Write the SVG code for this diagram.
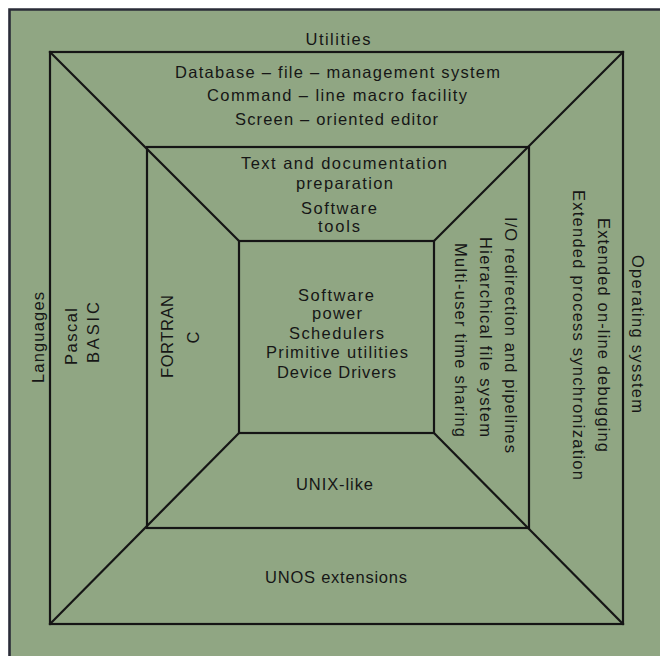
<svg xmlns="http://www.w3.org/2000/svg" width="660" height="656" viewBox="0 0 660 656">
  <style>
    .ln { stroke: #151515; stroke-width: 2.2; fill: none; stroke-linecap: square; }
    .edge { stroke: #2a2c38; stroke-width: 2.6; fill: none; }
    text { font-family: "Liberation Sans", Arial, Helvetica, sans-serif; font-size: 16.5px; fill: #161616; text-anchor: middle; }
  </style>

  <!-- paper and panel -->
  <rect x="0" y="0" width="660" height="656" fill="#ffffff"/>
  <rect x="9" y="9" width="651" height="647" fill="#90a683"/>
  <path class="edge" d="M9.5 656 V9.5 H660"/>

  <!-- nested squares and the corner diagonals -->
  <g id="connectors">
    <rect class="ln" x="50" y="52" width="573" height="572"/>
    <rect class="ln" x="147" y="147" width="382" height="381"/>
    <rect class="ln" x="239" y="241" width="195" height="192"/>
    <line class="ln" x1="50" y1="52" x2="239" y2="241"/>
    <line class="ln" x1="623" y1="52" x2="434" y2="241"/>
    <line class="ln" x1="50" y1="624" x2="239" y2="433"/>
    <line class="ln" x1="623" y1="624" x2="434" y2="433"/>
  </g>

  <!-- outer band labels -->
  <g id="utilities">
    <text x="338" y="45" textLength="65" lengthAdjust="spacing">Utilities</text>
  </g>
  <g id="languages">
    <text x="43.5" y="337.5" transform="rotate(-90 43.5 337.5)" textLength="91" lengthAdjust="spacing">Languages</text>
  </g>
  <g id="operating-system">
    <text x="631.5" y="334" transform="rotate(90 631.5 334)" textLength="158" lengthAdjust="spacing">Operating sysstem</text>
  </g>

  <!-- outer square contents -->
  <g id="unos-top">
    <text x="337.5" y="78" textLength="325" lengthAdjust="spacing">Database – file – management system</text>
    <text x="337" y="101" textLength="260" lengthAdjust="spacing">Command – line macro facility</text>
    <text x="336.5" y="125" textLength="203" lengthAdjust="spacing">Screen – oriented editor</text>
  </g>
  <g id="unos-left">
    <text x="76.7" y="336.5" transform="rotate(-90 76.7 336.5)" textLength="57" lengthAdjust="spacing">Pascal</text>
    <text x="98.5" y="332.5" transform="rotate(-90 98.5 332.5)" textLength="61" lengthAdjust="spacing">BASIC</text>
  </g>
  <g id="unos-right">
    <text x="598" y="335" transform="rotate(90 598 335)" textLength="234" lengthAdjust="spacing">Extended on-line debugging</text>
    <text x="573.3" y="335" transform="rotate(90 573.3 335)" textLength="290" lengthAdjust="spacing">Extended process synchronization</text>
  </g>
  <g id="unos-bottom">
    <text x="336" y="583" textLength="142" lengthAdjust="spacing">UNOS extensions</text>
  </g>

  <!-- middle square contents -->
  <g id="unix-top">
    <text x="344" y="169" textLength="206" lengthAdjust="spacing">Text and documentation</text>
    <text x="344.5" y="189" textLength="97" lengthAdjust="spacing">preparation</text>
    <text x="339" y="214" textLength="76" lengthAdjust="spacing">Software</text>
    <text x="339" y="231.5" textLength="42" lengthAdjust="spacing">tools</text>
  </g>
  <g id="unix-left">
    <text x="173.4" y="336.5" transform="rotate(-90 173.4 336.5)" textLength="83" lengthAdjust="spacing">FORTRAN</text>
    <text x="198.5" y="337.5" transform="rotate(-90 198.5 337.5)">C</text>
  </g>
  <g id="unix-right">
    <text x="505" y="335" transform="rotate(90 505 335)" textLength="236" lengthAdjust="spacing">I/O redirection and pipelines</text>
    <text x="480" y="337" transform="rotate(90 480 337)" textLength="200" lengthAdjust="spacing">Hierarchical file system</text>
    <text x="455" y="340" transform="rotate(90 455 340)" textLength="194" lengthAdjust="spacing">Multi-user time sharing</text>
  </g>
  <g id="unix-bottom">
    <text x="334.5" y="490" textLength="77" lengthAdjust="spacing">UNIX-like</text>
  </g>

  <!-- core -->
  <g id="core">
    <text x="336" y="301" textLength="76" lengthAdjust="spacing">Software</text>
    <text x="337" y="319" textLength="50" lengthAdjust="spacing">power</text>
    <text x="336.5" y="339" textLength="95" lengthAdjust="spacing">Schedulers</text>
    <text x="337" y="358" textLength="142" lengthAdjust="spacing">Primitive utilities</text>
    <text x="336.5" y="378" textLength="119" lengthAdjust="spacing">Device Drivers</text>
  </g>
</svg>
